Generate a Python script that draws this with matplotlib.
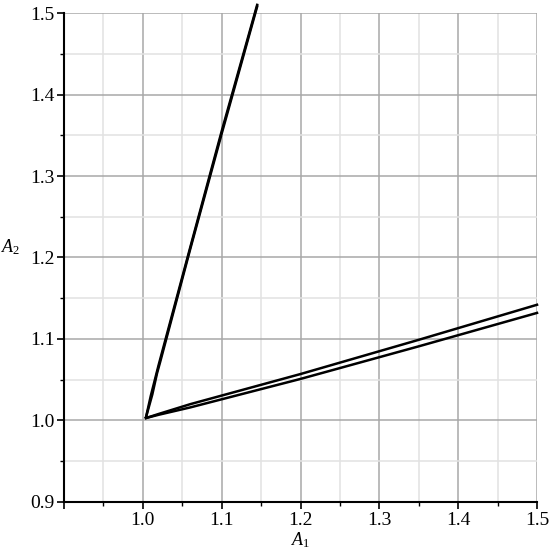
import matplotlib
matplotlib.use("Agg")
import matplotlib.pyplot as plt
from matplotlib.ticker import MultipleLocator, FixedLocator

# curve branches (A1, A2)
steep_a_x = [1.004, 1.010, 1.020, 1.060, 1.100, 1.145]
steep_a_y = [1.004, 1.030, 1.068, 1.212, 1.355, 1.510]
steep_b_x = [1.004, 1.012, 1.018, 1.022, 1.060, 1.100, 1.145]
steep_b_y = [1.004, 1.032, 1.058, 1.072, 1.210, 1.352, 1.508]
flat_a_x = [1.004, 1.020, 1.060, 1.200, 1.350, 1.500]
flat_a_y = [1.003, 1.008, 1.020, 1.057, 1.099, 1.142]
flat_b_x = [1.004, 1.020, 1.060, 1.200, 1.350, 1.500]
flat_b_y = [1.003, 1.007, 1.016, 1.051, 1.091, 1.132]

x_ticks = [1.0, 1.1, 1.2, 1.3, 1.4, 1.5]
y_ticks = [0.9, 1.0, 1.1, 1.2, 1.3, 1.4, 1.5]

plt.rcParams['font.family'] = 'serif'
plt.rcParams['font.serif'] = ['Liberation Serif', 'DejaVu Serif']
plt.rcParams['mathtext.fontset'] = 'custom'
plt.rcParams['mathtext.rm'] = 'Liberation Serif'
plt.rcParams['mathtext.it'] = 'Liberation Serif:italic'

fig = plt.figure(figsize=(5.5, 5.54), dpi=100)
ax = fig.add_axes([0.1164, 0.0939, 0.86, 0.8826])

ax.set_xlim(0.9, 1.5)
ax.set_ylim(0.9, 1.5)

# grid
ax.xaxis.set_major_locator(FixedLocator([0.9] + x_ticks))
ax.yaxis.set_major_locator(FixedLocator(y_ticks))
ax.xaxis.set_minor_locator(MultipleLocator(0.05))
ax.yaxis.set_minor_locator(MultipleLocator(0.05))
ax.grid(which='major', color='#a8a8a8', linewidth=1.1)
ax.grid(which='minor', color='#e2e2e2', linewidth=1.1)
ax.set_axisbelow(True)

ax.set_xticklabels([''] + [f'{v:.1f}' for v in x_ticks])
ax.set_yticklabels([f'{v:.1f}' for v in y_ticks])

for s in ['top', 'right']:
    ax.spines[s].set_visible(False)
for s in ['left', 'bottom']:
    ax.spines[s].set_linewidth(1.5)
    ax.spines[s].set_color('black')

ax.tick_params(which='major', direction='out', length=5, width=1.2,
               labelsize=14, pad=2)
ax.tick_params(which='minor', direction='out', length=3, width=1.0)

for xs, ys in [(steep_a_x, steep_a_y), (steep_b_x, steep_b_y),
               (flat_a_x, flat_a_y), (flat_b_x, flat_b_y)]:
    ax.plot(xs, ys, color='black', linewidth=1.8, clip_on=False)

ax.set_xlabel(r'$A_1$', fontsize=13, labelpad=1)
ax.set_ylabel(r'$A_2$', fontsize=13, rotation=0, labelpad=14)

fig.savefig('out.png', dpi=100)
